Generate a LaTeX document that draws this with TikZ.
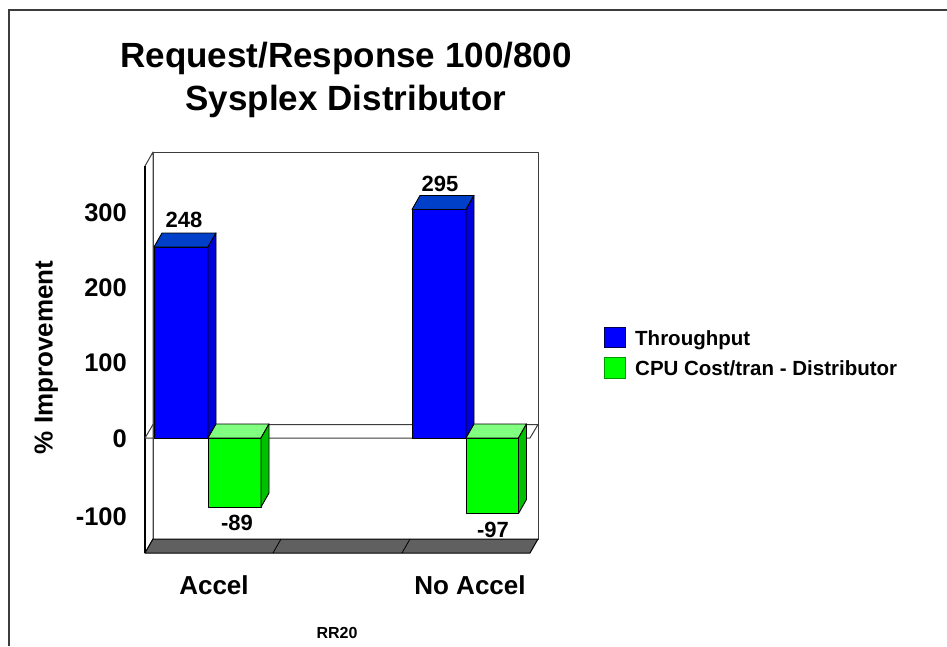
\documentclass[tikz,border=0pt]{standalone}
\usepackage{fontspec}
\setmainfont{Liberation Sans}
\definecolor{bluefront}{RGB}{0,0,255}
\definecolor{bluetop}{RGB}{0,64,200}
\definecolor{blueside}{RGB}{0,0,220}
\definecolor{greenfront}{RGB}{0,255,0}
\definecolor{greentop}{RGB}{128,255,128}
\definecolor{greenside}{RGB}{0,192,0}
\definecolor{floorgray}{RGB}{96,96,96}
\definecolor{framegray}{RGB}{60,60,60}
\newcommand\mybar[7]{% x1 x2 ytop ybot front top side
  \filldraw[baredge,fill=#5] (#1,#3) rectangle (#2,#4);
  \filldraw[baredge,fill=#6] (#1,#3) -- (#2,#3) -- ({#2+8},{#3-14}) -- ({#1+8},{#3-14}) -- cycle;
  \filldraw[baredge,fill=#7] (#2,#3) -- ({#2+8},{#3-14}) -- ({#2+8},{#4-14}) -- (#2,#4) -- cycle;
}
\begin{document}
\begin{tikzpicture}[x=1pt,y=-1pt,
  every node/.style={inner sep=0pt},
  baredge/.style={draw=black,line width=0.9pt,line join=round},
  walledge/.style={draw=framegray,line width=1pt,line join=round},
  titletext/.style={font=\fontsize{35}{42}\selectfont\bfseries,anchor=base},
  ticktext/.style={font=\fontsize{25.5}{30}\selectfont\bfseries,anchor=base east},
  axistext/.style={font=\fontsize{26}{31}\selectfont\bfseries,anchor=base},
  valtext/.style={font=\fontsize{22}{26}\selectfont\bfseries,anchor=base},
  legtext/.style={font=\fontsize{20.5}{25}\selectfont\bfseries,anchor=base west},
  smalltext/.style={font=\fontsize{16}{19}\selectfont\bfseries,anchor=base}]
\useasboundingbox (0,0) rectangle (947,646);
% outer frame
\draw[line width=1.5pt,framegray] (947,10) -- (9,10) -- (9,646);
% title
\node[titletext] (t1) at (346,67) {Request/Response 100/800};
\node[titletext] (t2) at (346,110) {Sysplex Distributor};
% back wall
\filldraw[walledge,fill=white] (153,152) rectangle (538,539);
% left wall
\filldraw[walledge,fill=white] (145,166) -- (153,152) -- (153,539) -- (145,553) -- cycle;
\draw[black,line width=1.8pt] (145,166) -- (145,553);
% floor
\filldraw[walledge,draw=black,fill=floorgray] (145,553) -- (153,539) -- (538,539) -- (530,553) -- cycle;
\draw[black,line width=0.8pt] (273,553) -- (281,539);
\draw[black,line width=0.8pt] (402,553) -- (410,539);
% zero plane
\draw[walledge] (145,438) -- (153,424.5) -- (538,424.5) -- (530,438) -- cycle;
% bars
\mybar{154}{208}{247}{438}{bluefront}{bluetop}{blueside}
\mybar{208}{261}{438}{507}{greenfront}{greentop}{greenside}
\mybar{412}{466}{209.5}{438}{bluefront}{bluetop}{blueside}
\mybar{466}{518.5}{438}{513.5}{greenfront}{greentop}{greenside}
% value labels
\node[valtext] (v1) at (184,227) {248};
\node[valtext] (v2) at (440,191) {295};
\node[valtext] (v3) at (237,530.5) {-89};
\node[valtext] (v4) at (493,537) {-97};
% y ticks
\node[ticktext] (y300) at (127,221) {300};
\node[ticktext] (y200) at (127,296) {200};
\node[ticktext] (y100) at (127,371) {100};
\node[ticktext] (y0) at (127,447) {0};
\node[ticktext] (ym100) at (127,525.5) {-100};
% axis titles
\node[axistext,rotate=90] (ytitle) at (52.5,357.5) {\% Improvement};
\node[axistext] (c1) at (214,594) {Accel};
\node[axistext] (c2) at (470,594) {No Accel};
\node[smalltext] (xt) at (337,638.5) {RR20};
% legend
\filldraw[draw=black!70!blue,line width=0.9pt,fill=bluefront] (604,327) rectangle (625,347);
\filldraw[draw=black!40!green,line width=0.9pt,fill=greenfront] (604,357) rectangle (625,378);
\node[legtext] (l1) at (635,345.3) {Throughput};
\node[legtext] (l2) at (635,375.6) {CPU Cost/tran - Distributor};
\end{tikzpicture}
\end{document}
